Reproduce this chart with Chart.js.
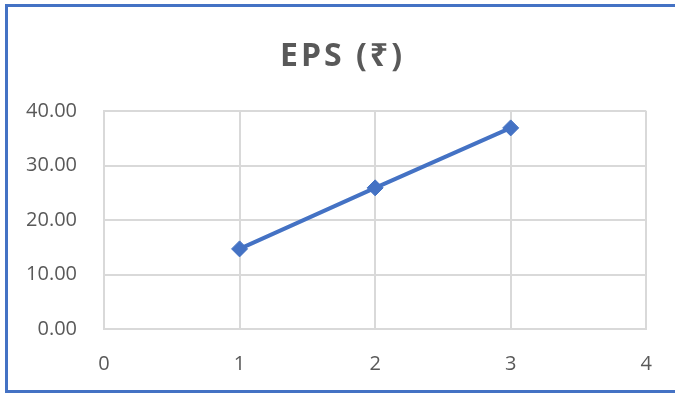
<!DOCTYPE html>
<html>
<head>
<meta charset="utf-8">
<script src="https://cdn.jsdelivr.net/npm/chart.js@4.4.1/dist/chart.umd.min.js"></script>
<style>
  html, body { margin: 0; padding: 0; background: #ffffff; }
  #wrap { position: relative; width: 675px; height: 394px; }
</style>
</head>
<body>
<div id="wrap"><canvas id="chart"></canvas></div>
<script>
// Earnings per share by period
const chartTitle = 'EPS (₹)';
const periods = [1, 2, 3];
const epsValues = [14.7, 25.9, 36.9];
const xTickValues = [0, 1, 2, 3, 4];
const yTickValues = [0, 10, 20, 30, 40];

const BLUE = '#4472C4';
const GRID = '#D9D9D9';
const TEXT = '#595959';

// Blue frame around the whole chart and the spaced-out bold title
const framePlugin = {
  id: 'frame',
  beforeDraw(chart) {
    const ctx = chart.ctx;
    ctx.save();
    ctx.fillStyle = '#ffffff';
    ctx.fillRect(0, 0, chart.width, chart.height);
    ctx.strokeStyle = BLUE;
    ctx.lineWidth = 3;
    ctx.strokeRect(6.5, 5.5, chart.width + 10, chart.height - 2.5 - 5.5);
    ctx.restore();
  },
  afterDraw(chart) {
    const ctx = chart.ctx;
    ctx.save();
    ctx.font = 'bold 32px "Open Sans", "Noto Sans", sans-serif';
    ctx.fillStyle = TEXT;
    ctx.letterSpacing = '3px';
    ctx.textBaseline = 'alphabetic';
    ctx.textAlign = 'left';
    const w = ctx.measureText(chartTitle).width - 3;
    ctx.fillText(chartTitle, 341 - w / 2, 66);
    ctx.restore();
  }
};

new Chart(document.getElementById('chart'), {
  type: 'scatter',
  data: {
    datasets: [{
      label: 'EPS',
      data: periods.map((p, i) => ({ x: p, y: epsValues[i] })),
      showLine: true,
      borderColor: BLUE,
      backgroundColor: BLUE,
      borderWidth: 4,
      pointStyle: 'rectRot',
      pointRadius: 8,
      pointHoverRadius: 8,
      pointBorderWidth: 1,
      pointBorderColor: BLUE,
      pointBackgroundColor: BLUE,
      tension: 0
    }]
  },
  options: {
    responsive: true,
    maintainAspectRatio: false,
    animation: false,
    devicePixelRatio: 1,
    layout: { padding: { top: 111, right: 28, bottom: 0, left: 0 } },
    plugins: {
      legend: { display: false },
      tooltip: { enabled: false },
      title: { display: false }
    },
    scales: {
      x: {
        type: 'linear',
        min: 0,
        max: 4,
        afterBuildTicks(axis) { axis.ticks = xTickValues.map(v => ({ value: v })); },
        afterFit(axis) { axis.height = 65; },
        ticks: {
          color: TEXT,
          font: { family: '"Open Sans", sans-serif', size: 20 },
          padding: 23,
          callback: v => String(v)
        },
        grid: { color: GRID, lineWidth: 2, drawTicks: false },
        border: { display: true, color: GRID, width: 2 }
      },
      y: {
        min: 0,
        max: 40,
        afterBuildTicks(axis) { axis.ticks = yTickValues.map(v => ({ value: v })); },
        afterFit(axis) { axis.width = 104; },
        ticks: {
          color: TEXT,
          font: { family: '"Open Sans", sans-serif', size: 20 },
          padding: 27,
          callback: v => Number(v).toFixed(2)
        },
        grid: { color: GRID, lineWidth: 2, drawTicks: false },
        border: { display: true, color: GRID, width: 2 }
      }
    }
  },
  plugins: [framePlugin]
});
</script>
</body>
</html>
